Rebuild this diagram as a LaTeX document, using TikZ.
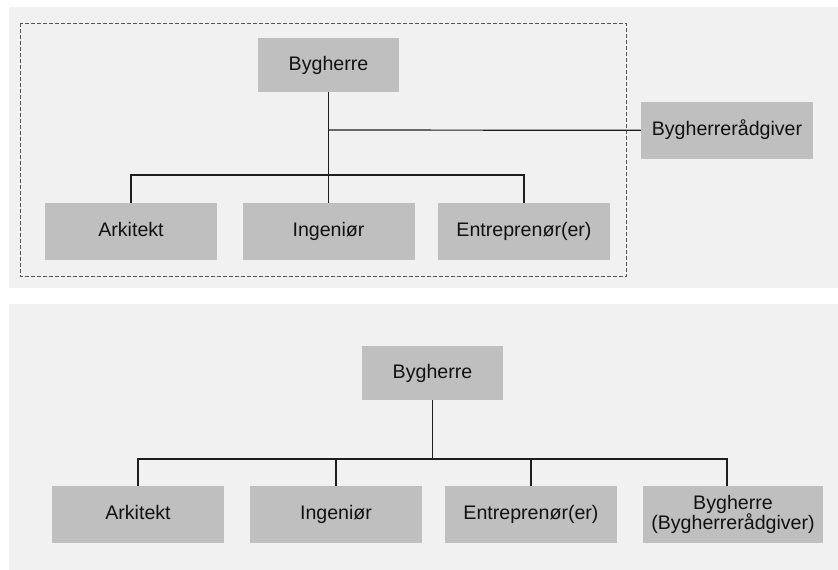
\documentclass[tikz,border=0pt]{standalone}
\usepackage{fontspec}
\setmainfont{Liberation Sans}
\begin{document}
\begin{tikzpicture}[x=1pt,y=-1pt,
  panel/.style={fill=panelgray,draw=none},
  orgbox/.style={rectangle,fill=boxgray,draw=none,inner sep=0pt,
    minimum width=172pt,minimum height=57pt,text=textblack,
    font=\fontsize{19.6}{20.5}\selectfont},
  onebox/.style={orgbox,text height=14pt,text depth=4pt},
  topbox/.style={onebox,minimum width=141pt,minimum height=54pt},
  link/.style={draw=linegray,line width=1.2pt},
  frame/.style={draw=framegray,line width=0.8pt,dash pattern=on 4pt off 2pt}]
\definecolor{panelgray}{HTML}{F1F1F1}
\definecolor{boxgray}{HTML}{BFBFBF}
\definecolor{linegray}{HTML}{1E1E1E}
\definecolor{framegray}{HTML}{555555}
\definecolor{textblack}{HTML}{111111}
\useasboundingbox (0,0) rectangle (838,570);
\fill[white] (0,0) rectangle (838,570);

% upper panel: organisation with an external advisor
\path[panel] (9,7) rectangle (838,288);
\path[frame] (20,23) rectangle (626.5,276);

\node[topbox] (by1) at (328.5,65) {Bygherre};
\node[onebox] (adv) at (727,130.3) {Bygherrerådgiver};
\node[onebox] (ark1) at (131,231.3) {Arkitekt};
\node[onebox] (ing1) at (328.5,231.3) {Ingeniør};
\node[onebox] (ent1) at (524,231.3) {Entreprenør(er)};

\coordinate (j1) at (328.5,130);
\coordinate (bus1) at (328.5,175);
\draw[link] (by1.south) -- (ing1.north);
\draw[link] (j1) -- (adv.west);
\draw[link] (ark1.north) |- (bus1) -| (ent1.north);

% lower panel: advisor acting on behalf of the client
\path[panel] (9,304) rectangle (838,570);

\node[topbox] (by2) at (432.5,373) {Bygherre};
\node[onebox] (ark2) at (138,514.3) {Arkitekt};
\node[onebox] (ing2) at (336,514.3) {Ingeniør};
\node[onebox] (ent2) at (531,514.3) {Entreprenør(er)};
\node[orgbox,align=center,minimum width=180pt] (bb2) at (733,514.3) {Bygherre\\(Bygherrerådgiver)};

\coordinate (bus2) at (432.5,459);
\coordinate (bbtop) at ([xshift=-6pt]bb2.north);
\draw[link] (by2.south) -- (bus2);
\draw[link] (ark2.north) |- (bus2) -| (bbtop);
\draw[link] (ing2.north) -- (ing2.north |- bus2);
\draw[link] (ent2.north) -- (ent2.north |- bus2);
\end{tikzpicture}
\end{document}
